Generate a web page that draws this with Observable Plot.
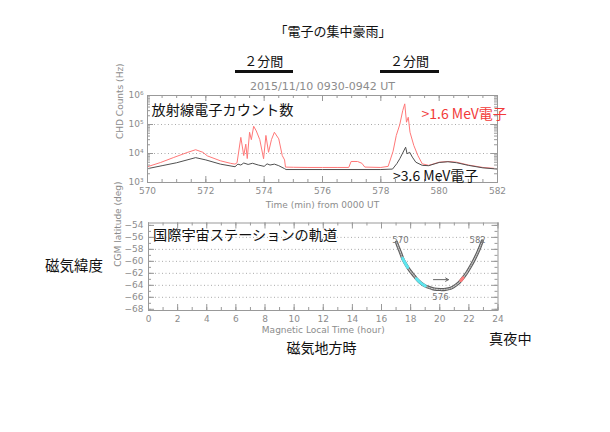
<!DOCTYPE html>
<html><head><meta charset="utf-8">
<script src="https://cdn.jsdelivr.net/npm/d3@7"></script>
<script src="https://cdn.jsdelivr.net/npm/@observablehq/plot@0.6"></script>
<style>
body{margin:0;background:#fff;}
#wrap{position:relative;width:610px;height:432px;overflow:hidden;background:#fff;}
#wrap svg{position:absolute;left:0;background:transparent;}
.jp{position:absolute;font-family:"Noto Sans CJK JP","Noto Sans",sans-serif;white-space:nowrap;line-height:1;color:#111;transform:translate(0,-50%);}
.c{transform:translate(-50%,-50%);}
.bar{position:absolute;height:3px;background:#111;}
</style></head><body><div id="wrap"></div>
<script>
// ---- data: CHD counts (Hz) vs time (min from 0000 UT)
const redT = [570.0,570.45,570.9,571.36,571.65,571.9,572.05,572.5,572.84,573.0,573.07,573.2,573.3,573.37,573.42,573.5,573.56,573.64,573.73,573.85,573.98,574.06,574.15,574.25,574.35,574.5,574.62,574.7,574.73,575.0,575.5,576.0,576.5,576.9,576.98,577.2,577.35,577.45,578.0,578.25,578.42,578.53,578.65,578.75,578.82,578.88,578.94,579.0,579.13,579.27,579.42,579.64,580.0,580.3,580.6,581.0,581.5,582.0];
const redV = [3500,4900,7300,10800,13500,11000,8300,5600,4600,4300,4800,36000,8500,21000,6700,54000,30000,87000,60000,30000,6600,42000,11000,30000,54000,32000,8500,6000,3400,3350,3300,3300,3300,3300,5300,5300,4600,3400,3300,3600,12000,42000,100000,300000,515000,120000,178000,54000,19000,8500,4400,3900,5000,5300,5000,4000,3300,3000];
const blackT = [570,570.5,571,571.65,572,572.5,573,573.1,573.2,573.3,573.45,573.6,573.8,574.0,574.1,574.2,574.35,574.5,574.7,574.75,576,578,578.4,578.55,578.65,578.85,578.9,578.99,579.08,579.2,579.42,579.64,580,580.3,580.6,581,581.5,582];
const blackV = [3000,3800,4800,7200,6000,4300,3500,4300,4000,4700,4200,4600,4000,3600,4400,4000,4300,3800,3000,2800,2800,2800,2900,4500,6600,16500,9800,11000,7500,5000,3900,3800,4900,5200,4800,3900,3200,2900];
const timeTicks = [570,572,574,576,578,580,582];
const countTicks = [1e3,1e4,1e5,1e6];
const countGrid = [1e4,1e5];
const twoMinWindows = [[573,575],[578,580]];

// ---- data: ISS orbit (MLT hour, CGM latitude deg), seg: 0 none, 1/2 cyan, 3 red
const orbitMLT = [17.03,17.15,17.3,17.45,17.6,17.8,18.0,18.2,18.4,18.6,18.8,19.0,19.2,19.5,19.8,20.05,20.4,20.74,21.0,21.3,21.45,21.6,21.8,22.1,22.35,22.57,22.75,22.92];
const orbitLat = [-56.8,-57.6,-58.5,-59.5,-60.2,-61.0,-61.7,-62.3,-62.9,-63.4,-63.8,-64.1,-64.3,-64.55,-64.67,-64.7,-64.67,-64.5,-64.15,-63.6,-63.2,-62.75,-62.1,-60.9,-59.8,-58.7,-57.7,-56.6];
const orbitSeg = [0,0,0,1,1,1,0,0,2,2,2,2,0,0,0,0,0,0,0,0,3,3,0,0,0,0,0,0];
const orbitLabels = ["570","576","582"];
const orbitLabelMLT = [17.3,20.05,22.6];
const orbitLabelLat = [-56.4,-66.0,-56.45];
const orbitLabelAnchor = ["start","middle","end"];
const arrowMLT = [19.57,20.6];
const arrowLat = [-63.05,-63.05];
const mltTicks = [0,2,4,6,8,10,12,14,16,18,20,22,24];
const latTicks = [-68,-66,-64,-62,-60,-58,-56,-54];
const latGrid = [-66,-64,-62,-60,-58,-56];

const red = redT.map((t,i)=>({t, v: redV[i]}));
const black = blackT.map((t,i)=>({t, v: blackV[i]}));
const orbit = orbitMLT.map((m,i)=>({m, lat: orbitLat[i], seg: orbitSeg[i]}));
const orbitHi = orbit.filter(d=>d.seg>0);
const labels = orbitLabels.map((s,i)=>({s, m: orbitLabelMLT[i], lat: orbitLabelLat[i], a: orbitLabelAnchor[i]}));

const grey = "#999";
const txt = "#8c8c8c";
const sup = ["⁰","¹","²","³","⁴","⁵","⁶"];
const wrap = document.getElementById("wrap");

// --- top chart
const T = {w:610,h:212,mt:95,mb:30,ml:147,mr:113};
const tpw = T.w-T.ml-T.mr, tph = T.h-T.mt-T.mb;
const minorT = d3.range(570,582.001,0.5);
const minorC = [];
for (let k=3;k<6;k++) for (let m=1;m<10;m++) minorC.push(m*10**k);
minorC.push(1e6);
const tickMarks = (xMinor, xMajor, yMinor, yMajor, pw, ph) => [
  Plot.tickX(xMinor,{x:d=>d,insetTop:ph-3,stroke:grey}),
  Plot.tickX(xMajor,{x:d=>d,insetTop:ph-6,stroke:grey}),
  Plot.tickX(xMinor,{x:d=>d,insetBottom:ph-3,stroke:grey}),
  Plot.tickX(xMajor,{x:d=>d,insetBottom:ph-6,stroke:grey}),
  Plot.tickY(yMinor,{y:d=>d,insetRight:pw-3,stroke:grey}),
  Plot.tickY(yMajor,{y:d=>d,insetRight:pw-6,stroke:grey}),
  Plot.tickY(yMinor,{y:d=>d,insetLeft:pw-3,stroke:grey}),
  Plot.tickY(yMajor,{y:d=>d,insetLeft:pw-6,stroke:grey})
];
const topChart = Plot.plot({
  width:T.w,height:T.h,marginTop:T.mt,marginBottom:T.mb,marginLeft:T.ml,marginRight:T.mr,
  style:{fontFamily:"DejaVu Sans, sans-serif",fontSize:"9px",color:txt,background:"transparent",overflow:"visible"},
  x:{domain:[570,582]},
  y:{type:"log",domain:[1e3,1e6]},
  marks:[
    Plot.ruleY(countGrid,{stroke:"#aaa",strokeDasharray:"1,2.5"}),
    Plot.line(red,{x:"t",y:"v",stroke:"#ff7878",strokeWidth:1}),
    Plot.line(black,{x:"t",y:"v",stroke:"#505050",strokeWidth:1}),
    ...tickMarks(minorT,timeTicks,minorC,countTicks,tpw,tph),
    Plot.frame({stroke:grey}),
    Plot.axisX(timeTicks,{tickSize:0,tickPadding:5,tickFormat:d=>String(d),label:null}),
    Plot.axisY(countTicks,{tickSize:0,tickPadding:4,tickFormat:d=>"10"+sup[Math.round(Math.log10(d))],label:null}),
    Plot.text(["Time (min) from 0000 UT"],{text:d=>d,frameAnchor:"bottom",lineAnchor:"middle",dy:23,fill:txt,fontSize:9}),
    Plot.text(["CHD Counts (Hz)"],{text:d=>d,frameAnchor:"left",dx:-27,rotate:-90,fill:txt,fontSize:9}),
    Plot.text(["2015/11/10 0930-0942 UT"],{text:d=>d,frameAnchor:"top",lineAnchor:"middle",dy:-9,fill:txt,fontSize:11})
  ]
});
topChart.style.top = "0px";
wrap.appendChild(topChart);

// --- bottom chart
const B = {w:610,h:133,mt:10.5,mb:35,ml:148,mr:112.5,top:212};
const bpw = B.w-B.ml-B.mr, bph = B.h-B.mt-B.mb;
const botChart = Plot.plot({
  width:B.w,height:B.h,marginTop:B.mt,marginBottom:B.mb,marginLeft:B.ml,marginRight:B.mr,
  style:{fontFamily:"DejaVu Sans, sans-serif",fontSize:"9px",color:txt,background:"transparent",overflow:"visible"},
  x:{domain:[0,24]},
  y:{domain:[-68.2,-53.6]},
  color:{type:"identity"},
  marks:[
    Plot.ruleY(latGrid,{stroke:"#aaa",strokeDasharray:"1,2.5"}),
    Plot.line(orbit,{x:"m",y:"lat",stroke:"#5e5e5e",strokeWidth:3.2,curve:"catmull-rom"}),
    Plot.line(orbit,{x:"m",y:"lat",stroke:"#c4c4c4",strokeWidth:1.2,strokeDasharray:"1.2,1.3",curve:"catmull-rom"}),
    Plot.line(orbitHi,{x:"m",y:"lat",z:"seg",stroke:d=>d.seg===3?"#ff7b7b":"#5fe6ef",strokeWidth:3,curve:"catmull-rom"}),
    Plot.arrow([0],{x1:()=>arrowMLT[0],x2:()=>arrowMLT[1],y1:()=>arrowLat[0],y2:()=>arrowLat[1],stroke:"#666",strokeWidth:1,headLength:5}),
    Plot.text(labels,{x:"m",y:"lat",text:"s",textAnchor:d=>d.a,fill:"#777",fontSize:8.5}),
    ...tickMarks(d3.range(0,24.001,1),mltTicks,d3.range(-68,-53.999,1),latTicks,bpw,bph),
    Plot.frame({stroke:grey}),
    Plot.axisX(mltTicks,{tickSize:0,tickPadding:5,tickFormat:d=>String(d),label:null}),
    Plot.axisY(latTicks,{tickSize:0,tickPadding:5,tickFormat:d3.format("d"),label:null}),
    Plot.text(["Magnetic Local Time (hour)"],{text:d=>d,frameAnchor:"bottom",lineAnchor:"middle",dy:20,fill:txt,fontSize:9}),
    Plot.text(["CGM latitude (deg)"],{text:d=>d,frameAnchor:"left",dx:-30,rotate:-90,fill:txt,fontSize:9})
  ]
});
botChart.style.top = B.top+"px";
wrap.appendChild(botChart);

// --- annotations
function addText(s, x, y, size, cls, color){
  const d = document.createElement("div");
  d.className = "jp" + (cls?" "+cls:"");
  d.textContent = s;
  d.style.left = x+"px"; d.style.top = y+"px"; d.style.fontSize = size+"px";
  if (color) d.style.color = color;
  wrap.appendChild(d);
}
addText("「電子の集中豪雨」",333,30,13,"c");
const xs = topChart.scale("x");
twoMinWindows.forEach(([a,b])=>{
  const x1 = xs.apply(a), x2 = xs.apply(b);
  addText("２分間",(x1+x2)/2,60,13,"c");
  const bar = document.createElement("div");
  bar.className="bar";
  bar.style.left = x1+"px"; bar.style.width = (x2-x1)+"px"; bar.style.top = "69.5px";
  wrap.appendChild(bar);
});
addText("放射線電子カウント数",151.5,109,14.2);
addText(">1.6 MeV電子",421.5,112.7,14,null,"#f23a3a");
addText(">3.6 MeV電子",393,175,14);
addText("国際宇宙ステーションの軌道",153,234,14.2);
addText("磁気緯度",45,265,14.5);
addText("磁気地方時",286.5,347,14);
addText("真夜中",489,338,14.2);
</script></body></html>
